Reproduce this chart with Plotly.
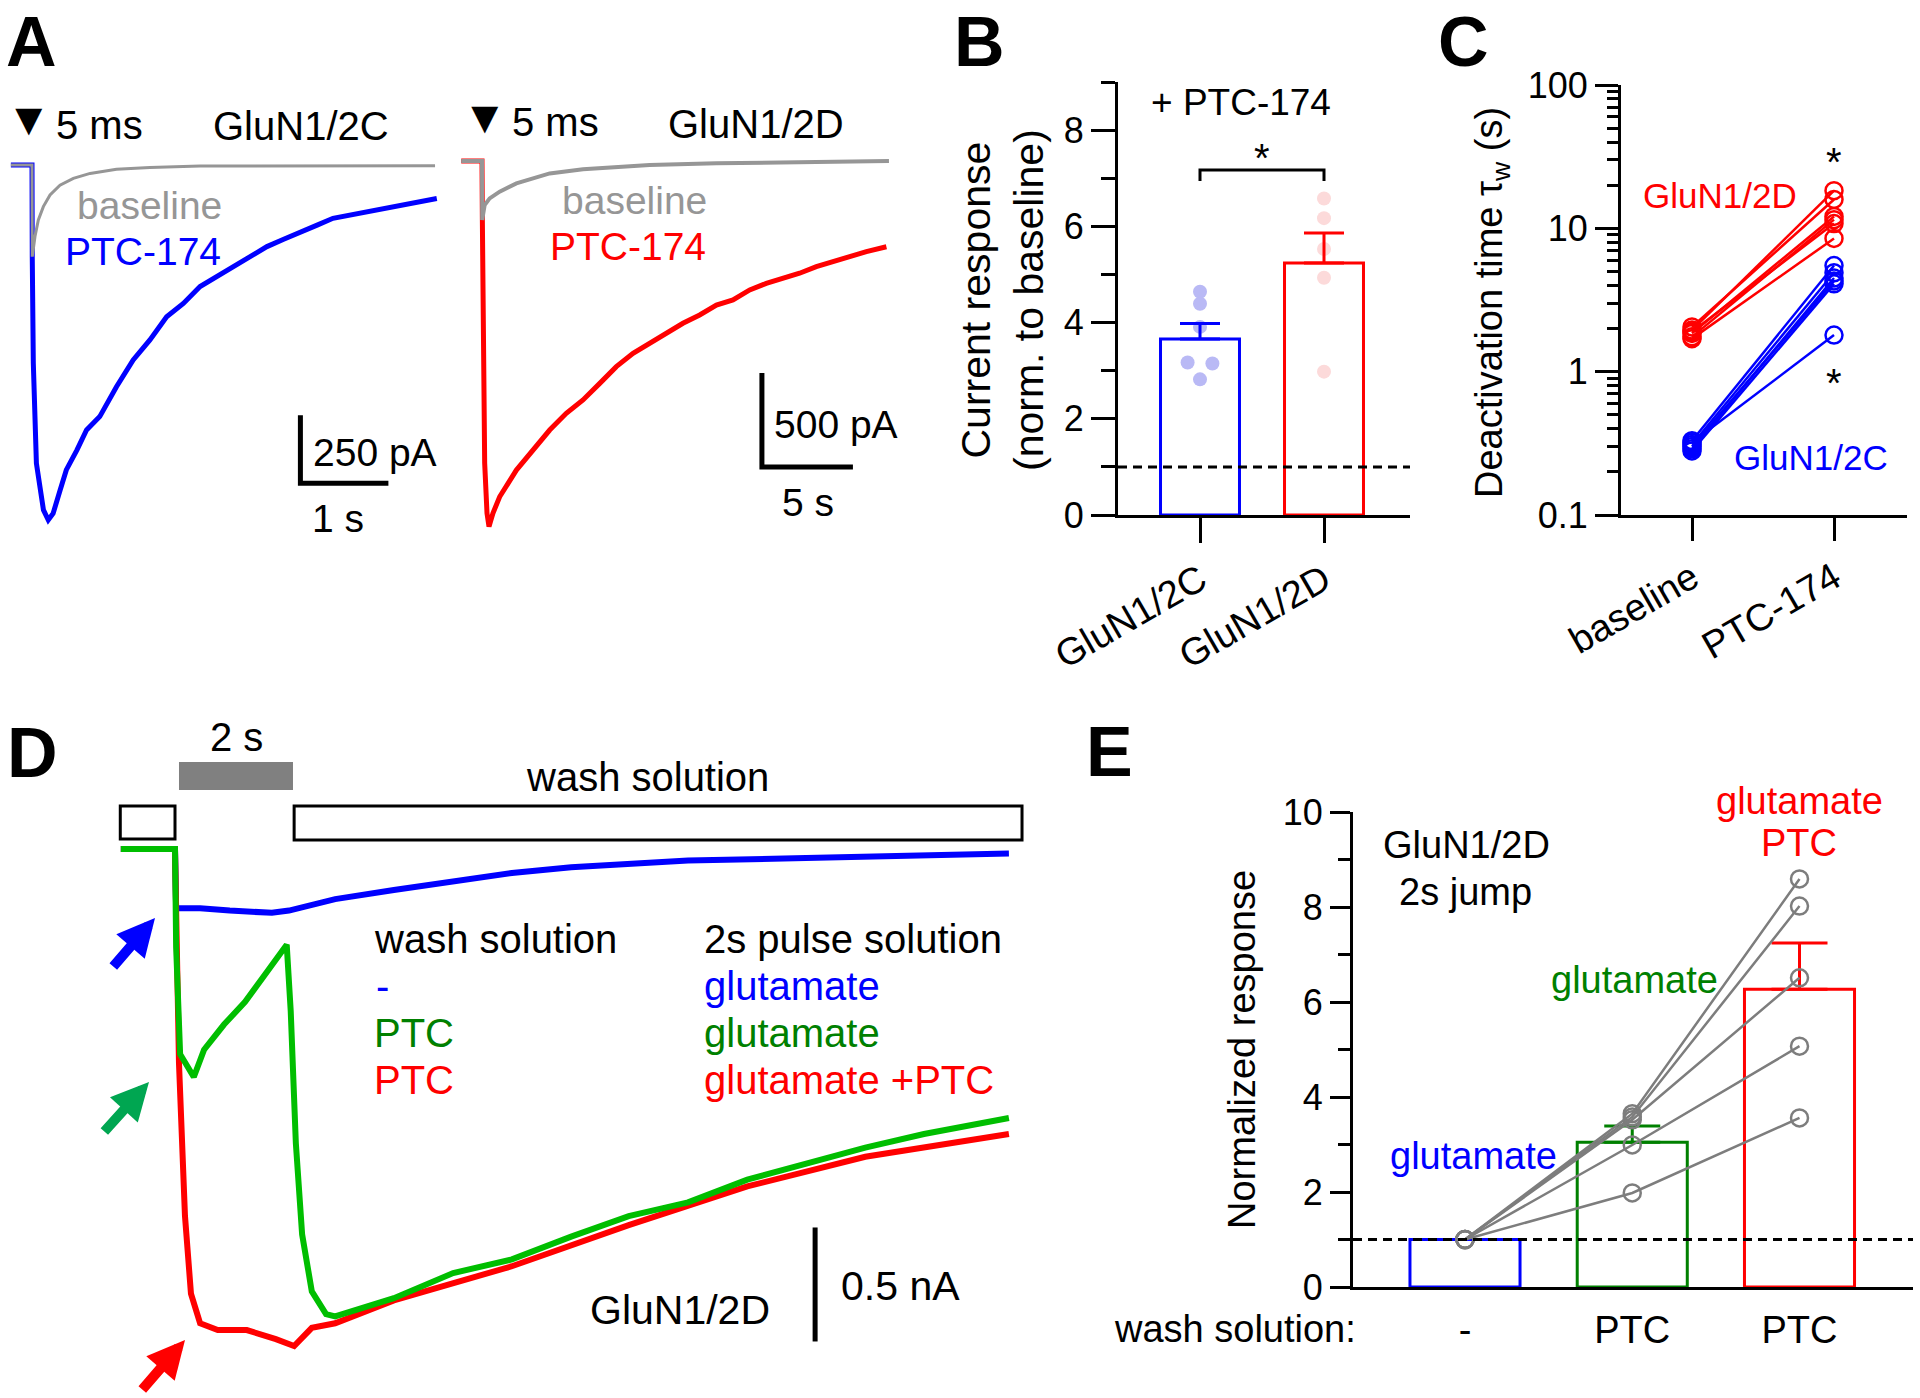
import plotly.graph_objects as go

W, H = 1920, 1398
FONT = "Liberation Sans, Arial, sans-serif"
BLUE = "rgb(0,0,255)"
RED = "rgb(255,0,0)"
GRAY = "rgb(150,150,150)"
DGREEN = "rgb(0,128,0)"
TGREEN = "rgb(0,190,0)"

# ---------------- DATA ----------------
# Panel A - GluN1/2C (time in s, current in pA)
a2c_t_ptc = [-0.24, 0.0, 0.003, 0.015, 0.05, 0.13, 0.185, 0.24, 0.32, 0.39, 0.51, 0.62, 0.77, 0.96,
             1.15, 1.34, 1.53, 1.72, 1.91, 2.10, 2.29, 2.48, 2.67, 2.86, 3.05, 3.24, 3.42, 3.61,
             3.80, 3.99, 4.18, 4.37, 4.60]
a2c_i_ptc = [0, 0, -337, -729, -1097, -1268, -1305, -1281, -1195, -1121, -1048, -974, -925, -815,
             -717, -643, -558, -509, -447, -411, -374, -337, -300, -273, -245, -221, -196, -184,
             -172, -159, -147, -135, -123]
a2c_t_base = [-0.24, 0.0, 0.003, 0.034, 0.072, 0.129, 0.205, 0.318, 0.47, 0.66, 0.96, 1.34, 1.91, 2.67, 4.58]
a2c_i_base = [0, 0, -337, -263, -202, -153, -110, -74, -49, -31, -16, -9, -4, -3, -3]

# Panel A - GluN1/2D
a2d_t_ptc = [-1.14, 0.0, 0.02, 0.055, 0.147, 0.275, 0.385, 0.60, 0.97, 1.89, 2.80, 3.72, 4.63, 5.55,
             6.47, 7.38, 8.30, 9.21, 10.13, 11.04, 11.96, 12.88, 13.79, 14.71, 15.62, 16.54, 17.45,
             18.37, 19.29, 20.20, 21.12, 22.22]
a2d_i_ptc = [0, 0, -314, -1076, -1608, -1874, -1945, -1874, -1786, -1644, -1537, -1431, -1342, -1271,
             -1183, -1094, -1023, -970, -917, -863, -819, -766, -739, -686, -651, -624, -597,
             -562, -535, -509, -482, -456]
a2d_t_base = [-1.14, 0.0, 0.01, 0.147, 0.42, 0.97, 1.89, 2.80, 3.72, 5.55, 7.38, 9.21, 12.88, 16.54, 22.36]
a2d_i_base = [0, 0, -314, -234, -199, -163, -119, -92, -66, -44, -30, -21, -12, -7, 0]

# Panel B
b_categories = ["GluN1/2C", "GluN1/2D"]
b_means = [3.66, 5.24]
b_sem = [0.32, 0.62]
b_pts_2c = [4.64, 4.39, 3.91, 3.17, 3.15, 2.82]
b_jit_2c = [0, 0, 0, -0.1, 0.1, 0]
b_pts_2d = [6.58, 6.17, 5.53, 4.93, 2.98]

# Panel C (tau_w in s)
c_categories = ["baseline", "PTC-174"]
c_2d_base = [1.95, 2.05, 1.85, 1.75, 1.90, 1.70]
c_2d_ptc = [18.3, 15.9, 12.1, 11.5, 10.8, 8.5]
c_2c_base = [0.33, 0.31, 0.29, 0.30, 0.28, 0.32]
c_2c_ptc = [5.5, 4.9, 4.5, 4.3, 4.1, 1.8]

# Panel D (time in s, current in nA)
d_t_blue = [-0.95, 0, 0.02, 0.44, 0.96, 1.58, 1.70, 2.0, 2.81, 3.84, 4.88, 5.91, 6.95, 9.0, 11.07, 13.14, 14.63]
d_i_blue = [0, 0, -0.26, -0.26, -0.27, -0.28, -0.28, -0.27, -0.22, -0.18, -0.14, -0.105, -0.08, -0.05,
            -0.04, -0.03, -0.02]
d_t_green = [-0.95, 0, 0.02, 0.09, 0.33, 0.51, 0.86, 1.23, 1.58, 1.96, 2.03, 2.12, 2.23, 2.40, 2.65,
             2.81, 3.84, 4.88, 5.91, 6.95, 7.96, 9.0, 10.04, 11.07, 12.11, 13.14, 14.63]
d_i_green = [0, 0, -0.43, -0.90, -1.0, -0.88, -0.77, -0.67, -0.55, -0.42, -0.71, -1.29, -1.69, -1.94,
             -2.04, -2.05, -1.97, -1.86, -1.80, -1.70, -1.61, -1.55, -1.45, -1.38, -1.31, -1.25, -1.18]
d_t_red = [-0.95, 0, 0.07, 0.175, 0.28, 0.44, 0.75, 1.26, 1.77, 2.09, 2.40, 2.81, 3.84, 5.91, 7.96,
           10.04, 12.11, 14.63]
d_i_red = [0, 0, -0.94, -1.61, -1.95, -2.08, -2.11, -2.11, -2.15, -2.18, -2.10, -2.08, -1.98, -1.83,
           -1.65, -1.48, -1.35, -1.25]
d_wash_pre = [-0.96, 0.0]
d_pulse = [0.07, 2.07]
d_wash_post = [2.09, 14.86]

# Panel E
e_categories = ["-", "PTC", "PTC"]
e_means = [1.0, 3.05, 6.27]
e_sem = [0.0, 0.34, 0.97]
e_glu = [1, 1, 1, 1, 1]
e_ptc_glu = [1.98, 2.99, 3.52, 3.58, 3.65]
e_ptc_gluptc = [3.56, 5.07, 6.51, 8.02, 8.59]


# ---------------- helpers (layout) ----------------
def xd(p0, p1):
    return [p0 / W, p1 / W]


def yd(ptop, pbot):
    return [1 - pbot / H, 1 - ptop / H]


def xr(p0, p1, origin, scale):
    return [(p0 - origin) / scale, (p1 - origin) / scale]


def yr(ptop, pbot, origin, scale):
    return [-(pbot - origin) / scale, -(ptop - origin) / scale]


ann = []


def txt(s, x, y, size=40, color="black", xanchor="center", angle=0):
    ann.append(dict(text=s, x=x / W, y=1 - y / H, xref="paper", yref="paper", showarrow=False,
                    xanchor=xanchor, yanchor="middle", textangle=angle,
                    font=dict(family=FONT, size=size, color=color)))


def arrow(xt, yt, dx, dy, color):
    ann.append(dict(text="", x=xt / W, y=1 - yt / H, xref="paper", yref="paper", showarrow=True,
                    ax=dx, ay=dy, axref="pixel", ayref="pixel", arrowhead=2, arrowsize=0.75,
                    arrowwidth=10, arrowcolor=color, standoff=0))


fig = go.Figure()

# ---- Panel A traces ----
fig.add_trace(go.Scatter(x=a2c_t_ptc, y=a2c_i_ptc, mode="lines", line=dict(color=BLUE, width=5),
                         xaxis="x", yaxis="y"))
fig.add_trace(go.Scatter(x=a2c_t_base, y=a2c_i_base, mode="lines", line=dict(color=GRAY, width=3),
                         xaxis="x", yaxis="y"))
fig.add_trace(go.Scatter(x=[3.05, 3.05, 4.05], y=[-920, -1170, -1170], mode="lines",
                         line=dict(color="black", width=5), xaxis="x", yaxis="y"))
fig.add_trace(go.Scatter(x=a2d_t_ptc, y=a2d_i_ptc, mode="lines", line=dict(color=RED, width=5),
                         xaxis="x2", yaxis="y2"))
fig.add_trace(go.Scatter(x=a2d_t_base, y=a2d_i_base, mode="lines", line=dict(color=GRAY, width=4),
                         xaxis="x2", yaxis="y2"))
fig.add_trace(go.Scatter(x=[15.38, 15.38, 20.38], y=[-1128, -1628, -1628], mode="lines",
                         line=dict(color="black", width=5), xaxis="x2", yaxis="y2"))

# ---- Panel B ----
fig.add_trace(go.Bar(x=[0, 1], y=b_means, width=0.637,
                     marker=dict(color="white", line=dict(color=[BLUE, RED], width=3)),
                     xaxis="x3", yaxis="y3"))
fig.add_trace(go.Scatter(x=b_jit_2c, y=b_pts_2c, mode="markers",
                         marker=dict(size=14, color="rgb(185,185,245)"), xaxis="x3", yaxis="y3"))
fig.add_trace(go.Scatter(x=[1] * len(b_pts_2d), y=b_pts_2d, mode="markers",
                         marker=dict(size=14, color="rgb(252,218,218)"), xaxis="x3", yaxis="y3"))
for i, col in enumerate([BLUE, RED]):
    fig.add_trace(go.Scatter(x=[i], y=[b_means[i]], mode="markers",
                             marker=dict(size=1, color="rgba(0,0,0,0)"),
                             error_y=dict(type="data", array=[b_sem[i]], arrayminus=[0], symmetric=False,
                                          color=col, thickness=3, width=20),
                             xaxis="x3", yaxis="y3"))
fig.add_trace(go.Scatter(x=[0, 0, 1, 1], y=[6.94, 7.17, 7.17, 6.94], mode="lines",
                         line=dict(color="black", width=3), xaxis="x3", yaxis="y3"))

# ---- Panel C ----
for b, p in zip(c_2d_base, c_2d_ptc):
    fig.add_trace(go.Scatter(x=[0, 1], y=[b, p], mode="lines+markers",
                             line=dict(color=RED, width=2.5),
                             marker=dict(symbol="circle-open", size=17, color=RED, line=dict(width=2.5)),
                             xaxis="x4", yaxis="y4"))
for b, p in zip(c_2c_base, c_2c_ptc):
    fig.add_trace(go.Scatter(x=[0, 1], y=[b, p], mode="lines+markers",
                             line=dict(color=BLUE, width=2.5),
                             marker=dict(symbol="circle-open", size=17, color=BLUE, line=dict(width=2.5)),
                             xaxis="x4", yaxis="y4"))

# ---- Panel D ----
fig.add_trace(go.Scatter(x=d_t_blue, y=d_i_blue, mode="lines", line=dict(color=BLUE, width=6),
                         xaxis="x5", yaxis="y5"))
fig.add_trace(go.Scatter(x=d_t_red, y=d_i_red, mode="lines", line=dict(color=RED, width=6),
                         xaxis="x5", yaxis="y5"))
fig.add_trace(go.Scatter(x=d_t_green, y=d_i_green, mode="lines", line=dict(color=TGREEN, width=6),
                         xaxis="x5", yaxis="y5"))
fig.add_trace(go.Scatter(x=[11.23, 11.23], y=[-1.66, -2.16], mode="lines",
                         line=dict(color="black", width=5), xaxis="x5", yaxis="y5"))

# ---- Panel E ----
fig.add_trace(go.Bar(x=[0, 1, 2], y=e_means, width=0.658,
                     marker=dict(color="white", line=dict(color=[BLUE, DGREEN, RED], width=3)),
                     xaxis="x6", yaxis="y6"))
for i, col in [(1, DGREEN), (2, RED)]:
    fig.add_trace(go.Scatter(x=[i], y=[e_means[i]], mode="markers",
                             marker=dict(size=1, color="rgba(0,0,0,0)"),
                             error_y=dict(type="data", array=[e_sem[i]], arrayminus=[0], symmetric=False,
                                          color=col, thickness=3, width=28),
                             xaxis="x6", yaxis="y6"))
for a, b, c in zip(e_glu, e_ptc_glu, e_ptc_gluptc):
    fig.add_trace(go.Scatter(x=[0, 1, 2], y=[a, b, c], mode="lines+markers",
                             line=dict(color="rgb(125,125,125)", width=2.5),
                             marker=dict(symbol="circle-open", size=17, color="rgb(125,125,125)",
                                         line=dict(width=2.5)),
                             xaxis="x6", yaxis="y6"))

# ---------------- axes ----------------
hidden = dict(visible=False, showgrid=False, zeroline=False, automargin=False)
axstyle = dict(showline=True, linecolor="black", linewidth=3, ticks="outside", tickwidth=3,
               tickcolor="black", showgrid=False, zeroline=False, automargin=False)
tf36 = dict(family=FONT, size=36, color="black")
tf38 = dict(family=FONT, size=38, color="black")

layout = dict(
    template="none",
    width=W, height=H, margin=dict(l=0, r=0, t=0, b=0, pad=0, autoexpand=False), showlegend=False,
    paper_bgcolor="white", plot_bgcolor="rgba(0,0,0,0)", barmode="overlay",
    xaxis=dict(domain=xd(5, 445), range=xr(5, 445, 32, 88), **hidden),
    yaxis=dict(domain=yd(100, 540), range=yr(100, 540, 165, 0.272), **hidden),
    xaxis2=dict(domain=xd(455, 905), range=xr(455, 905, 482, 18.2), anchor="y2", **hidden),
    yaxis2=dict(domain=yd(100, 540), range=yr(100, 540, 161, 0.188), anchor="x2", **hidden),
    xaxis3=dict(domain=xd(1118, 1410), range=xr(1118, 1410, 1200, 124), anchor="y3",
                tickvals=[0, 1], ticktext=b_categories, tickangle=-30, ticklen=25,
                tickfont=tf38, **axstyle),
    yaxis3=dict(domain=yd(82, 515), range=[0, 9.0001], anchor="x3", tickvals=[0, 2, 4, 6, 8],
                ticklen=24, tickfont=tf36,
                minor=dict(tickvals=[1, 3, 5, 7, 9], ticklen=14, tickwidth=3,
                           ticks="outside", tickcolor="black"), **axstyle),
    xaxis4=dict(domain=xd(1621, 1907), range=xr(1621, 1907, 1692, 142), anchor="y4",
                tickvals=[0, 1], ticktext=c_categories, tickangle=-30, ticklen=23,
                tickfont=tf38, **axstyle),
    yaxis4=dict(domain=yd(85, 515), type="log", range=[-1, 2.0001], anchor="x4",
                tickvals=[0.1, 1, 10, 100], ticktext=["0.1", "1", "10", "100"], ticklen=23,
                tickfont=tf36,
                minor=dict(tickvals=[0.2, 0.3, 0.4, 0.5, 0.6, 0.7, 0.8, 0.9,
                                     2, 3, 4, 5, 6, 7, 8, 9, 20, 30, 40, 50, 60, 70, 80, 90],
                           ticklen=11, tickwidth=2.5, ticks="outside", tickcolor="black"),
                **axstyle),
    xaxis5=dict(domain=xd(100, 1030), range=xr(100, 1030, 175, 57), anchor="y5", **hidden),
    yaxis5=dict(domain=yd(720, 1398), range=yr(720, 1398, 849, 228), anchor="x5", **hidden),
    xaxis6=dict(domain=xd(1353, 1913), range=xr(1353, 1913, 1465, 167.25), anchor="y6",
                tickvals=[0, 1, 2], ticktext=e_categories, ticks="outside", ticklen=7,
                tickcolor="rgba(0,0,0,0)", showline=True, linecolor="black", linewidth=3,
                showgrid=False, zeroline=False, automargin=False, tickfont=tf38),
    yaxis6=dict(domain=yd(812, 1287), range=[0, 10.0001], anchor="x6",
                tickvals=[0, 2, 4, 6, 8, 10], ticklen=20, tickfont=tf36,
                minor=dict(tickvals=[1, 3, 5, 7, 9], ticklen=12, tickwidth=3, ticks="outside",
                           tickcolor="black"), **axstyle),
)

shapes = [
    dict(type="line", xref="x3 domain", yref="y3", x0=0, x1=1, y0=1, y1=1,
         line=dict(color="black", width=3, dash="9px,6px"), layer="above"),
    dict(type="line", xref="x6 domain", yref="y6", x0=0, x1=1, y0=1, y1=1,
         line=dict(color="black", width=3, dash="9px,6px"), layer="above"),
    dict(type="rect", xref="x5", yref="paper", x0=d_wash_pre[0], x1=d_wash_pre[1],
         y0=1 - 839 / H, y1=1 - 806 / H, line=dict(color="black", width=3), fillcolor="white"),
    dict(type="rect", xref="x5", yref="paper", x0=d_pulse[0], x1=d_pulse[1],
         y0=1 - 790 / H, y1=1 - 762 / H, line=dict(width=0), fillcolor="rgb(128,128,128)"),
    dict(type="rect", xref="x5", yref="paper", x0=d_wash_post[0], x1=d_wash_post[1],
         y0=1 - 840 / H, y1=1 - 806 / H, line=dict(color="black", width=3), fillcolor="white"),
]

# ---------------- text ----------------
for lab, x, y in [("A", 31, 42), ("B", 979, 42), ("C", 1463, 42), ("D", 32, 753), ("E", 1109, 752)]:
    txt("<b>" + lab + "</b>", x, y, size=70)

# A
txt("▼", 29, 119, size=46)
txt("5 ms", 54, 125, xanchor="left")
txt("GluN1/2C", 211, 126, xanchor="left")
txt("▼", 485, 117, size=46)
txt("5 ms", 510, 122, xanchor="left")
txt("GluN1/2D", 666, 124, xanchor="left")
txt("baseline", 75, 205, size=39, color=GRAY, xanchor="left")
txt("PTC-174", 63, 251, size=39, color=BLUE, xanchor="left")
txt("baseline", 560, 200, size=39, color=GRAY, xanchor="left")
txt("PTC-174", 548, 247, size=39, color=RED, xanchor="left")
txt("250 pA", 311, 452, size=39, xanchor="left")
txt("1 s", 338, 518, size=39)
txt("500 pA", 772, 425, size=39, xanchor="left")
txt("5 s", 808, 502, size=39)

# B
txt("+ PTC-174", 1241, 102, size=37)
txt("*", 1262, 158, size=40)
txt("Current response<br>(norm. to baseline)", 1002, 300, size=41, angle=-90)

# C
txt("Deactivation time τ<sub>w</sub> (s)", 1492, 303, size=38, angle=-90)
txt("GluN1/2D", 1720, 195, size=35, color=RED)
txt("GluN1/2C", 1811, 457, size=35, color=BLUE)
txt("*", 1834, 162, size=40)
txt("*", 1834, 383, size=40)

# D
txt("2 s", 236, 737)
txt("wash solution", 647, 777)
txt("wash solution", 372, 939, xanchor="left")
txt("2s pulse solution", 702, 939, xanchor="left")
txt("-", 374, 986, color=BLUE, xanchor="left")
txt("glutamate", 702, 986, color=BLUE, xanchor="left")
txt("PTC", 372, 1033, color=DGREEN, xanchor="left")
txt("glutamate", 702, 1033, color=DGREEN, xanchor="left")
txt("PTC", 372, 1080, color=RED, xanchor="left")
txt("glutamate +PTC", 702, 1080, color=RED, xanchor="left")
txt("GluN1/2D", 680, 1310, size=41)
txt("0.5 nA", 839, 1286, size=41, xanchor="left")
arrow(155, 918, -43, 50, BLUE)
arrow(149, 1082, -46, 51, "rgb(0,166,81)")
arrow(185, 1340, -44, 51, RED)

# E
txt("GluN1/2D", 1466, 845, size=38)
txt("2s jump", 1465, 892, size=38)
txt("glutamate", 1473, 1156, size=38, color=BLUE)
txt("glutamate", 1634, 980, size=38, color=DGREEN)
txt("glutamate", 1799, 801, size=38, color=RED)
txt("PTC", 1799, 843, size=38, color=RED)
txt("wash solution:", 1358, 1329, size=38, xanchor="right")
txt("Normalized response", 1242, 1050, size=38, angle=-90)

layout["shapes"] = shapes
layout["annotations"] = ann
fig.update_layout(**layout)
fig.write_html("out.html", config={"displayModeBar": False},
               post_script="document.body.style.margin='0px';document.body.style.padding='0px';")
